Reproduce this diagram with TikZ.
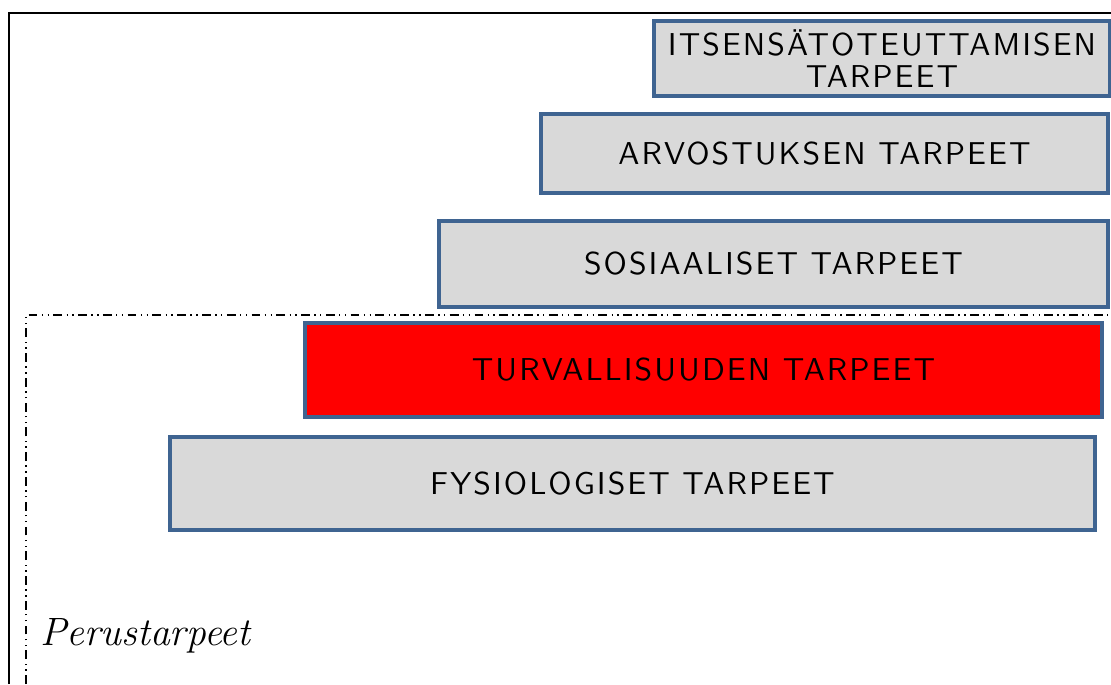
\documentclass[tikz,border=0pt]{standalone}
\usepackage{fontspec}
\usepackage{tikz}
\usetikzlibrary{positioning}

\definecolor{boxblue}{RGB}{63,100,145}
\definecolor{boxgrey}{RGB}{217,217,217}
\newfontfamily\needfont{lmsans10-regular.otf}[LetterSpace=6.5]

\begin{document}
\begin{tikzpicture}[x=0.02cm,y=-0.02cm,
                    need box/.style={rectangle,draw=boxblue,line width=2.4pt,fill=boxgrey,
                      inner sep=0pt,align=center,
                      font=\needfont\fontsize{18}{18.5}\selectfont},
                    base line/.style={line width=1.2pt,
                      dash pattern=on 5pt off 2.5pt on 0.8pt off 2.5pt on 0.8pt off 2.5pt}]

  \useasboundingbox (0,0) rectangle (1111,684);

  % frame and base-needs area
  \draw[line width=1.2pt] (9,684) -- (9,13) -- (1111,13);
  \draw[base line] (26,684) -- (26,315) -- (1111,315);

  \node[need box,minimum width=9.12cm,minimum height=1.5cm] (itse) at (882,58.5)
    {ITSENSÄTOTEUTTAMISEN\\TARPEET};
  \node[need box,minimum width=11.34cm,minimum height=1.58cm] (arvo) at (824.5,153.5)
    {ARVOSTUKSEN TARPEET};
  \node[need box,minimum width=13.38cm,minimum height=1.72cm] (sosi) at (773.5,264)
    {SOSIAALISET TARPEET};
  \node[need box,fill=red,minimum width=15.94cm,minimum height=1.88cm] (turva) at (703.5,370)
    {TURVALLISUUDEN TARPEET};
  \node[need box,minimum width=18.5cm,minimum height=1.86cm] (fysio) at (632.5,483.5)
    {FYSIOLOGISET TARPEET};

  \node[anchor=base west,inner sep=0pt,font=\itshape\fontsize{22.5}{23}\selectfont] (perus) at (40,645)
    {Perustarpeet};

\end{tikzpicture}
\end{document}
